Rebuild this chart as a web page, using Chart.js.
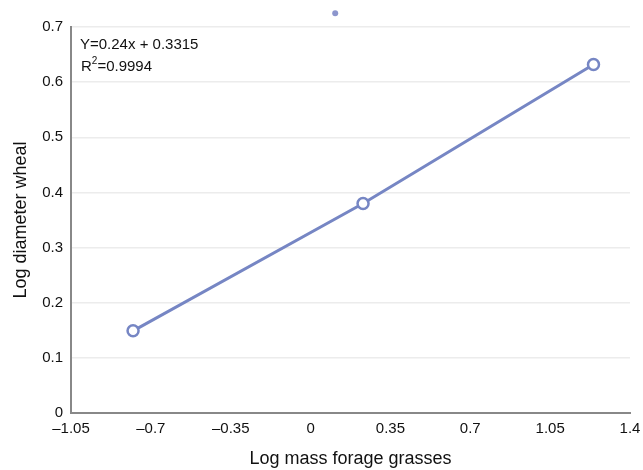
<!DOCTYPE html>
<html>
<head>
<meta charset="utf-8">
<script src="https://cdn.jsdelivr.net/npm/chart.js@4"></script>
<style>
html,body{margin:0;padding:0;background:#fff;}
#wrap{width:643px;height:470px;position:relative;}
</style>
</head>
<body>
<div id="wrap"><canvas id="c" width="643" height="470"></canvas></div>
<script>
const xValues = [-0.778, 0.23, 1.24];
const yValues = [0.149, 0.380, 0.632];
const strayX = [0.108];
const strayY = [0.725];
const xTicks = [-1.05, -0.7, -0.35, 0, 0.35, 0.7, 1.05, 1.4];
const xTickLabels = ['–1.05', '–0.7', '–0.35', '0', '0.35', '0.7', '1.05', '1.4'];
const yTicks = [0, 0.1, 0.2, 0.3, 0.4, 0.5, 0.6, 0.7];
const yTickLabels = ['0', '0.1', '0.2', '0.3', '0.4', '0.5', '0.6', '0.7'];
const equationText = 'Y=0.24x + 0.3315';
const r2Text = '0.9994';

const FONT = '"Liberation Sans", Arial, Helvetica, sans-serif';
const lineColor = 'rgb(118,134,196)';

const annot = {
  id: 'annot',
  afterDraw(chart) {
    const ctx = chart.ctx;
    const xs = chart.scales.x, ys = chart.scales.y;
    ctx.save();
    // stray point drawn from data through the scales
    ctx.fillStyle = 'rgb(140,150,205)';
    strayX.forEach((x, i) => {
      ctx.beginPath();
      ctx.arc(xs.getPixelForValue(x), ys.getPixelForValue(strayY[i]), 3, 0, Math.PI * 2);
      ctx.fill();
    });
    ctx.fillStyle = '#111';
    ctx.font = '15px ' + FONT;
    ctx.textBaseline = 'alphabetic';
    ctx.textAlign = 'left';
    ctx.fillText(equationText, 80, 49);
    let x = 81;
    ctx.fillText('R', x, 71);
    x += ctx.measureText('R').width;
    ctx.font = '10px ' + FONT;
    ctx.fillText('2', x, 64);
    x += ctx.measureText('2').width;
    ctx.font = '15px ' + FONT;
    ctx.fillText('=' + r2Text, x, 71);
    ctx.restore();
  }
};

new Chart(document.getElementById('c'), {
  type: 'scatter',
  data: {
    datasets: [
      {
        data: xValues.map((x, i) => ({x: x, y: yValues[i]})),
        showLine: true,
        borderColor: lineColor,
        borderWidth: 3,
        pointRadius: 5.5,
        pointBorderWidth: 2.5,
        pointBackgroundColor: '#fff',
        pointBorderColor: lineColor,
        clip: false
      }
    ]
  },
  options: {
    responsive: false,
    animation: false,
    devicePixelRatio: 1,
    layout: {padding: {top: 27, right: 13, left: 0, bottom: 0}},
    plugins: {legend: {display: false}, tooltip: {enabled: false}},
    scales: {
      x: {
        type: 'linear',
        min: -1.05, max: 1.4,
        afterBuildTicks: s => { s.ticks = xTicks.map(v => ({value: v})); },
        afterFit: s => { s.height = 57; s.paddingLeft = 0; s.paddingRight = 0; },
        ticks: {
          callback: (v, i) => xTickLabels[i],
          color: '#111',
          font: {family: FONT, size: 15},
          padding: 7,
          maxRotation: 0,
          autoSkip: false
        },
        grid: {display: false, drawTicks: false},
        border: {display: true, color: '#888', width: 2},
        title: {display: true, text: 'Log mass forage grasses', color: '#111', font: {family: FONT, size: 18}, padding: {top: 0, bottom: 0}}
      },
      y: {
        type: 'linear',
        min: 0, max: 0.7,
        afterBuildTicks: s => { s.ticks = yTicks.map(v => ({value: v})); },
        afterFit: s => { s.width = 71; s.paddingTop = 0; s.paddingBottom = 0; },
        ticks: {
          callback: (v, i) => yTickLabels[i],
          color: '#111',
          font: {family: FONT, size: 15},
          padding: 8
        },
        grid: {color: '#ececec', lineWidth: 1.5, drawTicks: false},
        border: {display: true, color: '#888', width: 2},
        title: {display: true, text: 'Log diameter wheal', color: '#111', font: {family: FONT, size: 18}, padding: {top: 10, bottom: 0}}
      }
    }
  },
  plugins: [annot]
});
</script>
</body>
</html>
